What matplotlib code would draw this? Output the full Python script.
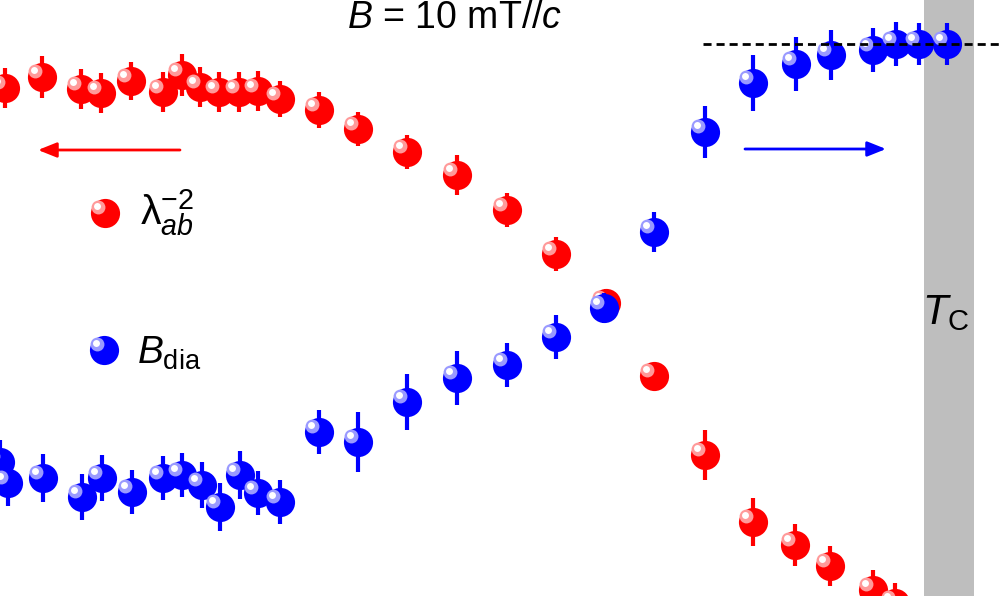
import numpy as np
import matplotlib.pyplot as plt
from matplotlib.transforms import offset_copy

plt.rcParams['font.family'] = ['Liberation Sans', 'DejaVu Sans']
plt.rcParams['mathtext.fontset'] = 'custom'
plt.rcParams['mathtext.rm'] = 'Liberation Sans'
plt.rcParams['mathtext.it'] = 'Liberation Sans:italic'

# 数据（横轴为温度方向，纵轴向下增大，单位与图像区域一致）
T_lam = [5, 42, 81, 101, 131, 163, 182, 200, 219, 239, 258, 280,
         319, 358, 407, 457, 507, 556, 606, 654, 705, 753, 795, 830, 873, 895]
lam = [88, 77, 89, 93, 81, 92, 75, 87, 92, 92, 91, 99,
       110, 129, 152, 175, 210, 254, 303, 376, 455, 522, 545, 566, 590, 603]
lam_err = [20, 21, 20, 20, 19, 20, 21, 20, 20, 20, 20, 18,
           18, 17, 17, 20, 17, 17, 14, 12, 25, 24, 21, 20, 20, 20]

T_dia = [0, 8, 43, 82, 102, 132, 163, 182, 202, 220, 240, 258, 280,
         319, 358, 407, 457, 507, 556, 604, 654, 705, 753, 796, 831, 873, 896, 919, 947]
dia = [462, 483, 478, 497, 478, 492, 478, 475, 485, 507, 475, 493, 502,
       432, 442, 402, 378, 365, 337, 308, 232, 132, 83, 64, 55, 50, 44, 44, 44]
dia_err = [22, 23, 24, 23, 23, 22, 22, 22, 23, 24, 24, 22, 22,
           22, 30, 28, 27, 22, 22, 15, 20, 26, 28, 27, 25, 22, 22, 21, 21]

T_c_band = (924, 974)
sat_level = 44

fig = plt.figure(figsize=(10, 5.96), dpi=100)
ax = fig.add_axes([0, 0, 1, 1])
ax.set_xlim(0, 1000)
ax.set_ylim(596, 0)
ax.axis('off')

# Tc 灰色带
ax.axvspan(T_c_band[0], T_c_band[1], color='#bebebe', lw=0, zorder=0)


def sphere(x, y, color, light, z):
    # 主体圆 + 左上高光，模仿原图的球形标记
    ax.plot(x, y, 'o', ms=21, color=color, mec='none', zorder=z)
    tr1 = offset_copy(ax.transData, fig=fig, x=-5.0, y=4.5, units='points')
    tr2 = offset_copy(ax.transData, fig=fig, x=-5.5, y=5.0, units='points')
    ax.plot(x, y, 'o', ms=10, color=light, mec='none', transform=tr1, zorder=z + 0.1)
    ax.plot(x, y, 'o', ms=5, color='white', mec='none', transform=tr2, zorder=z + 0.2)


ax.errorbar(T_lam, lam, yerr=lam_err, fmt='none', ecolor='#ff0000', elinewidth=3, capsize=0, zorder=2)
sphere(T_lam, lam, '#ff0000', '#ff9a9a', 3)
ax.errorbar(T_dia, dia, yerr=dia_err, fmt='none', ecolor='#0000ff', elinewidth=3, capsize=0, zorder=3.5)
sphere(T_dia, dia, '#0000ff', '#9a9aff', 4)

# 饱和值虚线
ax.plot([703, 1000], [sat_level, sat_level], color='black', lw=2, dashes=[2.9, 1.8], zorder=5)

# 箭头
arrow_style = '-|>,head_length=0.75,head_width=0.3'
ax.annotate('', xy=(38, 150), xytext=(180, 150),
            arrowprops=dict(arrowstyle=arrow_style, color='#ff0000', lw=2,
                            mutation_scale=15, shrinkA=0, shrinkB=0))
ax.annotate('', xy=(886, 149), xytext=(745, 149),
            arrowprops=dict(arrowstyle=arrow_style, color='#0000ff', lw=2,
                            mutation_scale=15, shrinkA=0, shrinkB=0))

# 图例
sphere([105], [213], '#ff0000', '#ff9a9a', 6)
sphere([104], [350], '#0000ff', '#9a9aff', 6)
ax.text(140, 213, r'$\mathrm{λ}_{ab}^{-2}$', fontsize=29.5, va='center', ha='left')
ax.text(137, 353, r'$B_{\mathrm{dia}}$', fontsize=28, va='center', ha='left')

ax.text(946, 313, r'$T_{\mathrm{C}}$', fontsize=30, va='center', ha='center')
ax.text(455, 18, r'$B$ = 10 mT//$c$', fontsize=27, va='center', ha='center')

plt.savefig('out.png', dpi=100)
